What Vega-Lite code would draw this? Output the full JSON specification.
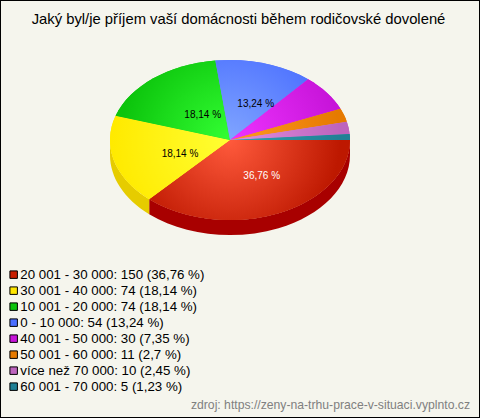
{
"$schema":"https://vega.github.io/schema/vega-lite/v6.json",
"width":480,"height":418,"padding":0,"autosize":{"type":"none"},
"background":"#f5f5ed",
"view":{"stroke":"#000000","strokeWidth":2,"fill":"#f5f5ed"},
"title":{"text":"Jaký byl/je příjem vaší domácnosti během rodičovské dovolené","font":"Liberation Sans","fontSize":14.8,"fontWeight":"normal","color":"#000000","anchor":"middle","dx":-1.5,"offset":-27},
"data":{"values":[
{"kategorie":"20 001 - 30 000","pocet":150,"podil":"36,76 %","popisek":"20 001 - 30 000: 150 (36,76 %)"},
{"kategorie":"30 001 - 40 000","pocet":74,"podil":"18,14 %","popisek":"30 001 - 40 000: 74 (18,14 %)"},
{"kategorie":"10 001 - 20 000","pocet":74,"podil":"18,14 %","popisek":"10 001 - 20 000: 74 (18,14 %)"},
{"kategorie":"0 - 10 000","pocet":54,"podil":"13,24 %","popisek":"0 - 10 000: 54 (13,24 %)"},
{"kategorie":"40 001 - 50 000","pocet":30,"podil":"7,35 %","popisek":"40 001 - 50 000: 30 (7,35 %)"},
{"kategorie":"50 001 - 60 000","pocet":11,"podil":"2,7 %","popisek":"50 001 - 60 000: 11 (2,7 %)"},
{"kategorie":"více než 70 000","pocet":10,"podil":"2,45 %","popisek":"více než 70 000: 10 (2,45 %)"},
{"kategorie":"60 001 - 70 000","pocet":5,"podil":"1,23 %","popisek":"60 001 - 70 000: 5 (1,23 %)"}
]},
"encoding":{
"x":{"datum":0,"type":"quantitative","scale":{"domain":[-230,250],"nice":false,"zero":false},"axis":null},
"y":{"datum":0,"type":"quantitative","scale":{"domain":[-140,278],"reverse":true,"nice":false,"zero":false},"axis":null}
},
"layer":[
{"transform":[{"filter":"datum.kategorie==='20 001 - 30 000'"}],
 "mark":{"type":"point","filled":true,"opacity":1,"size":4,"strokeWidth":0,"fill":"#a80000","shape":"M120,0A120,80 0 0 1 -80.8,59.2L-80.8,74.2A120,80 0 0 0 120,15Z"}},
{"transform":[{"filter":"datum.kategorie==='30 001 - 40 000'"}],
 "mark":{"type":"point","filled":true,"opacity":1,"size":4,"strokeWidth":0,"fill":"#e6cc00","shape":"M-80.8,59.2A120,80 0 0 1 -120,0L-120,15A120,80 0 0 0 -80.8,74.2Z"}},
{"mark":{"type":"point","filled":true,"opacity":1,"size":4,"strokeWidth":0},
 "encoding":{
  "shape":{"field":"kategorie","type":"nominal","legend":null,"scale":{
   "domain":["20 001 - 30 000","30 001 - 40 000","10 001 - 20 000","0 - 10 000","40 001 - 50 000","50 001 - 60 000","více než 70 000","60 001 - 70 000"],
   "range":["M0,0L120,0A120,80 0 0 1 -80.8,59.2Z","M0,0L-80.8,59.2A120,80 0 0 1 -114.4,-24.2Z","M0,0L-114.4,-24.2A120,80 0 0 1 -14.7,-79.4Z","M0,0L-14.7,-79.4A120,80 0 0 1 78.1,-60.7Z","M0,0L78.1,-60.7A120,80 0 0 1 110.5,-31.2Z","M0,0L110.5,-31.2A120,80 0 0 1 116.8,-18.3Z","M0,0L116.8,-18.3A120,80 0 0 1 119.7,-6.1Z","M0,0L119.7,-6.1A120,80 0 0 1 120,0Z"]}},
  "color":{"field":"popisek","type":"nominal","sort":null,
   "scale":{"domain":["20 001 - 30 000: 150 (36,76 %)","30 001 - 40 000: 74 (18,14 %)","10 001 - 20 000: 74 (18,14 %)","0 - 10 000: 54 (13,24 %)","40 001 - 50 000: 30 (7,35 %)","50 001 - 60 000: 11 (2,7 %)","více než 70 000: 10 (2,45 %)","60 001 - 70 000: 5 (1,23 %)"],
    "range":["#c81e00","#ffe600","#0cc40c","#4a6eff","#c714d9","#e67a00","#bd64bd","#1f8095"]},
   "legend":{"orient":"none","legendX":7,"legendY":268,"title":null,"symbolType":"square","symbolSize":56,"symbolStrokeColor":"#000000","symbolStrokeWidth":1,"labelFont":"Liberation Sans","labelFontSize":13.3,"labelColor":"#000000","labelLimit":400,"labelOffset":0,"rowPadding":2,"padding":0}}
 }},
{"transform":[{"filter":"datum.kategorie==='20 001 - 30 000'"}],
 "mark":{"type":"point","filled":true,"opacity":1,"size":4,"strokeWidth":0,"shape":"M0,0L120,0A120,80 0 0 1 -80.8,59.2Z",
  "fill":{"gradient":"radial","x1":0.4024,"y1":0.3008,"r1":0,"x2":0.4024,"y2":0.3008,"r2":0.548,"stops":[{"offset":0,"color":"#ff5a3c"},{"offset":1,"color":"#bd1800"}]}}},
{"transform":[{"filter":"datum.kategorie==='30 001 - 40 000'"}],
 "mark":{"type":"point","filled":true,"opacity":1,"size":4,"strokeWidth":0,"shape":"M0,0L-80.8,59.2A120,80 0 0 1 -114.4,-24.2Z",
  "fill":{"gradient":"radial","x1":1.0,"y1":0.354,"r1":0,"x2":1.0,"y2":0.354,"r2":0.98,"stops":[{"offset":0,"color":"#ffff33"},{"offset":1,"color":"#ffea00"}]}}},
{"transform":[{"filter":"datum.kategorie==='10 001 - 20 000'"}],
 "mark":{"type":"point","filled":true,"opacity":1,"size":4,"strokeWidth":0,"shape":"M0,0L-114.4,-24.2A120,80 0 0 1 -14.7,-79.4Z",
  "fill":{"gradient":"radial","x1":1.0,"y1":0.847,"r1":0,"x2":1.0,"y2":0.847,"r2":0.962,"stops":[{"offset":0,"color":"#33ff33"},{"offset":1,"color":"#0cc40c"}]}}},
{"transform":[{"filter":"datum.kategorie==='0 - 10 000'"}],
 "mark":{"type":"point","filled":true,"opacity":1,"size":4,"strokeWidth":0,"shape":"M0,0L-14.7,-79.4A120,80 0 0 1 78.1,-60.7Z",
  "fill":{"gradient":"radial","x1":0.158,"y1":0.931,"r1":0,"x2":0.158,"y2":0.931,"r2":1.185,"stops":[{"offset":0,"color":"#80a5ff"},{"offset":1,"color":"#4a6eff"}]}}},
{"transform":[{"filter":"datum.kategorie==='40 001 - 50 000'"}],
 "mark":{"type":"point","filled":true,"opacity":1,"size":4,"strokeWidth":0,"shape":"M0,0L78.1,-60.7A120,80 0 0 1 110.5,-31.2Z",
  "fill":{"gradient":"radial","x1":0,"y1":0.775,"r1":0,"x2":0,"y2":0.775,"r2":0.995,"stops":[{"offset":0,"color":"#ee33ff"},{"offset":1,"color":"#c714d9"}]}}},
{"transform":[{"filter":"datum.kategorie==='50 001 - 60 000'"}],
 "mark":{"type":"point","filled":true,"opacity":1,"size":4,"strokeWidth":0,"shape":"M0,0L110.5,-31.2A120,80 0 0 1 116.8,-18.3Z",
  "fill":{"gradient":"radial","x1":0,"y1":0.634,"r1":0,"x2":0,"y2":0.634,"r2":0.942,"stops":[{"offset":0,"color":"#ff9922"},{"offset":1,"color":"#e67a00"}]}}},
{"transform":[{"filter":"datum.kategorie==='více než 70 000'"}],
 "mark":{"type":"point","filled":true,"opacity":1,"size":4,"strokeWidth":0,"shape":"M0,0L116.8,-18.3A120,80 0 0 1 119.7,-6.1Z",
  "fill":{"gradient":"radial","x1":0,"y1":0.576,"r1":0,"x2":0,"y2":0.576,"r2":0.919,"stops":[{"offset":0,"color":"#e08fe0"},{"offset":1,"color":"#bd64bd"}]}}},
{"transform":[{"filter":"datum.kategorie==='60 001 - 70 000'"}],
 "mark":{"type":"point","filled":true,"opacity":1,"size":4,"strokeWidth":0,"shape":"M0,0L119.7,-6.1A120,80 0 0 1 120,0Z",
  "fill":{"gradient":"radial","x1":0,"y1":0.525,"r1":0,"x2":0,"y2":0.525,"r2":0.917,"stops":[{"offset":0,"color":"#33a0b0"},{"offset":1,"color":"#1f8095"}]}}},
{"transform":[{"filter":"datum.kategorie==='20 001 - 30 000'"}],
 "mark":{"type":"text","font":"Liberation Sans","fontSize":10,"align":"center","baseline":"middle","color":"#ffffff","dx":31.7,"dy":36},
 "encoding":{"text":{"field":"podil"}}},
{"transform":[{"filter":"datum.kategorie==='30 001 - 40 000'"}],
 "mark":{"type":"text","font":"Liberation Sans","fontSize":10,"align":"center","baseline":"middle","color":"#000000","dx":-50,"dy":14},
 "encoding":{"text":{"field":"podil"}}},
{"transform":[{"filter":"datum.kategorie==='10 001 - 20 000'"}],
 "mark":{"type":"text","font":"Liberation Sans","fontSize":10,"align":"center","baseline":"middle","color":"#000000","dx":-27.3,"dy":-25},
 "encoding":{"text":{"field":"podil"}}},
{"transform":[{"filter":"datum.kategorie==='0 - 10 000'"}],
 "mark":{"type":"text","font":"Liberation Sans","fontSize":10,"align":"center","baseline":"middle","color":"#000000","dx":25.7,"dy":-36},
 "encoding":{"text":{"field":"podil"}}},
{"data":{"values":[{"zdroj":"zdroj: https://zeny-na-trhu-prace-v-situaci.vyplnto.cz"}]},
 "mark":{"type":"text","font":"Liberation Sans","fontSize":12.2,"align":"right","baseline":"alphabetic","color":"#808080","dx":240,"dy":269},
 "encoding":{"text":{"field":"zdroj"}}}
]
}
